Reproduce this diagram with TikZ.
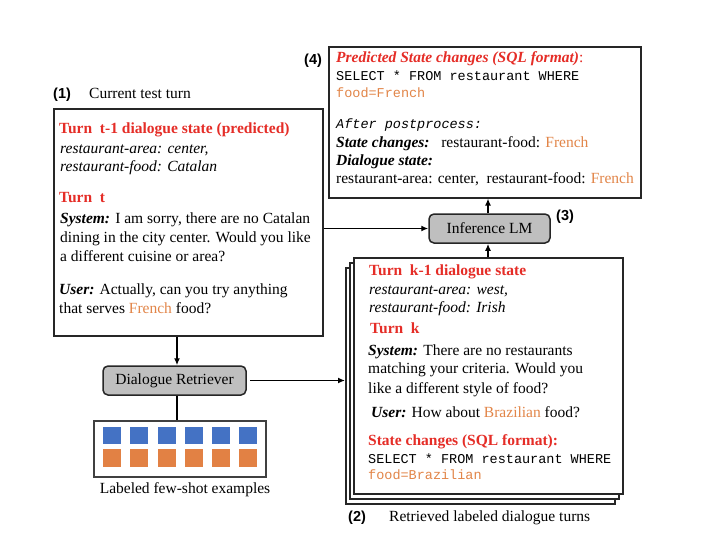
\documentclass[tikz,border=0pt]{standalone}
\usepackage{fontspec}
\setmainfont{Liberation Serif}
\setsansfont{Liberation Sans}
\setmonofont{Liberation Mono}
\usetikzlibrary{arrows.meta}
\definecolor{tred}{RGB}{229,45,39}
\definecolor{torange}{RGB}{226,133,72}
\definecolor{sqblue}{RGB}{68,114,196}
\definecolor{sqorange}{RGB}{226,129,68}
\definecolor{boxgray}{RGB}{191,191,191}
\newcommand{\rd}[1]{\textcolor{tred}{#1}}
\newcommand{\og}[1]{\textcolor{torange}{#1}}
\newcommand{\bi}[1]{\textbf{\textit{#1}}}
\begin{document}
\begin{tikzpicture}[x=1pt,y=-1pt,
  txt/.style={anchor=base west,inner sep=0pt,font=\fontsize{15.5}{19}\selectfont},
  mono/.style={anchor=base west,inner sep=0pt,font=\fontsize{13.5}{16}\selectfont\ttfamily},
  lbl/.style={anchor=base west,inner sep=0pt,font=\fontsize{14.5}{16}\selectfont\sffamily\bfseries},
  box/.style={draw=black!85,line width=1.5pt,fill=white,anchor=north west,inner sep=0pt},
  rbox/.style={draw=black!85,line width=1.5pt,fill=boxgray,rounded corners=5pt,inner sep=0pt,font=\fontsize{15.5}{19}\selectfont},
  arr/.style={line width=1.7pt,-{Latex[length=7pt,width=6pt]}},
  ln/.style={line width=1.7pt},
  sqb/.style={fill=sqblue,anchor=north west,minimum width=18pt,minimum height=17pt,inner sep=0pt},
  sqo/.style={fill=sqorange,anchor=north west,minimum width=18pt,minimum height=18pt,inner sep=0pt}
]
\useasboundingbox (0,0) rectangle (708,536);
\fill[white] (0,0) rectangle (708,536);

% ---------- Box (1) current turn
\node[box,minimum width=269pt,minimum height=227pt] (cur) at (53,108) {};
\node[lbl] (l1) at (53,98) {(1)};
\node[txt] (l1t) at (89,98) {Current test turn};
\node[txt] (c1) at (59,133) {\rd{\textbf{Turn\ \ t-1 dialogue state (predicted)}}};
\node[txt] (c2) at (60,153) {\textit{restaurant-area: center,}};
\node[txt] (c3) at (60,171) {\textit{restaurant-food: Catalan}};
\node[txt] (c4) at (59,202) {\rd{\textbf{Turn\ \ t}}};
\node[txt] (c5) at (60,223) {\bi{System:} I am sorry, there are no Catalan};
\node[txt] (c6) at (60,242) {dining in the city center. Would you like};
\node[txt] (c7) at (60,261) {a different cuisine or area?};
\node[txt] (c8) at (59,294) {\bi{User:} Actually, can you try anything};
\node[txt] (c9) at (59,313) {that serves \og{French} food?};

% ---------- Box (4) prediction
\node[box,minimum width=312pt,minimum height=151pt] (pred) at (328,46) {};
\node[lbl] (l4) at (304,64) {(4)};
\node[txt] (p1) at (336,62) {\rd{\bi{Predicted State changes (SQL format)}:}};
\node[mono] (p2) at (336,80) {SELECT * FROM restaurant WHERE};
\node[mono] (p3) at (336,97) {\og{food=French}};
\node[mono] (p4) at (336,128) {\itshape After postprocess:};
\node[txt] (p5) at (336,147) {\bi{State changes:}\ \ \ restaurant-food: \og{French}};
\node[txt] (p6) at (336,165) {\bi{Dialogue state:}};
\node[txt] (p7) at (336,183) {restaurant-area: center,\ \ restaurant-food: \og{French}};

% ---------- Inference LM
\node[rbox,minimum width=121pt,minimum height=29pt] (lm) at (489.5,228.5) {Inference LM};
\node[lbl] (l3) at (556,220) {(3)};

% ---------- Box (2) retrieved (stacked)
\node[box,minimum width=269pt,minimum height=236pt] (ret3) at (345,267) {};
\node[box,minimum width=269pt,minimum height=236pt] (ret2) at (349,262) {};
\node[box,minimum width=269pt,minimum height=236pt] (ret) at (353,257) {};
\node[lbl] (l2) at (348,521) {(2)};
\node[txt] (l2t) at (389,521) {Retrieved labeled dialogue turns};
\node[txt] (r1) at (369,275) {\rd{\textbf{Turn\ \ k-1 dialogue state}}};
\node[txt] (r2) at (369,294) {\textit{restaurant-area: west,}};
\node[txt] (r3) at (369,312) {\textit{restaurant-food: Irish}};
\node[txt] (r4) at (370,333) {\rd{\textbf{Turn\ \ k}}};
\node[txt] (r5) at (368,355) {\bi{System:} There are no restaurants};
\node[txt] (r6) at (368,373) {matching your criteria. Would you};
\node[txt] (r7) at (368,393) {like a different style of food?};
\node[txt] (r8) at (371,417) {\bi{User:} How about \og{Brazilian} food?};
\node[txt] (r9) at (368,445) {\rd{\textbf{State changes (SQL format):}}};
\node[mono] (r10) at (368,463) {SELECT * FROM restaurant WHERE};
\node[mono] (r11) at (368,479) {\og{food=Brazilian}};

% ---------- Dialogue retriever and examples
\node[rbox,minimum width=143pt,minimum height=29pt] (dr) at (174.5,380.5) {Dialogue Retriever};
\node[box,draw=black!75,minimum width=172pt,minimum height=56pt] (ex) at (93,420) {};
\foreach \i in {0,...,5}{
  \node[sqb] (b\i) at (103+27.2*\i,427) {};
  \node[sqo] (o\i) at (103+27.2*\i,449) {};
}
\node[txt,anchor=base] (exl) at (185,493) {Labeled few-shot examples};

% ---------- connectors
\draw[arr] (cur.south -| 177,0) -- (dr.north -| 177,0);
\draw[ln] (dr.south -| 177,0) -- (ex.north -| 177,0);
\draw[arr] ([xshift=3pt]dr.east) -- (ret3.west |- dr.east);
\draw[arr] (cur.east |- lm.west) -- (lm.west);
\draw[arr] (lm.north -| 488,0) -- (pred.south -| 488,0);
\draw[arr] (ret.north -| 488,0) -- (lm.south -| 488,0);
\end{tikzpicture}
\end{document}
